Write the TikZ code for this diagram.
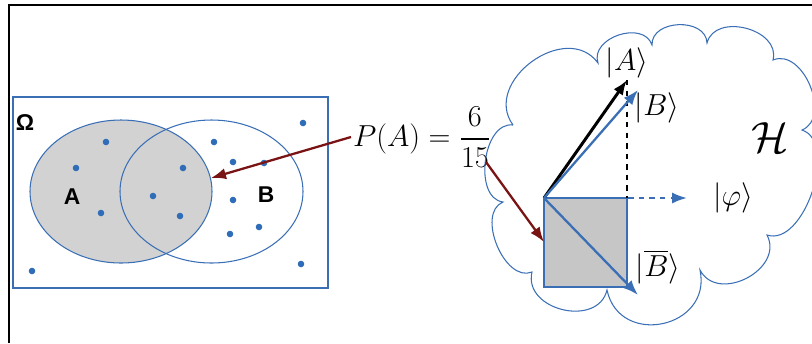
\documentclass[tikz,border=0pt]{standalone}
\usepackage{amsmath,amssymb}
\usepackage{fontspec}
\newfontfamily\vennfont{Liberation Sans}
\usetikzlibrary{arrows.meta,positioning,calc}
\definecolor{kblue}{HTML}{3A6FB5}
\definecolor{kred}{HTML}{7A1414}
\definecolor{kgray}{HTML}{D2D2D2}
\definecolor{dotblue}{HTML}{2F6DB8}
\tikzset{
  setlbl/.style={font=\vennfont\bfseries\fontsize{13}{15}\selectfont},
  ketlbl/.style={font=\fontsize{17}{19}\selectfont, inner sep=0pt},
  puff/.style={bend left=90, looseness=#1},
}

\begin{document}
\begin{tikzpicture}[x=0.02cm, y=-0.02cm]
\useasboundingbox (0,0) rectangle (812,343);
% frame
\draw[line width=1.3pt] (9,343) -- (9,5) -- (812,5);
% sample space and events
\fill[kgray] (121,191.5) ellipse (91 and 71.5);
\draw[kblue, thick] (13,97) rectangle (328,288);
\draw[kblue, semithick] (121,191.5) ellipse (91 and 71.5);
\draw[kblue, semithick] (211.5,191.5) ellipse (91.5 and 71.5);
\node[setlbl] (omega) at (25,123) {Ω};
\node[setlbl] (seta) at (72,197) {A};
\node[setlbl] (setb) at (266,195) {B};
% outcomes
\foreach \p in {(106,142),(76,168),(101,213),(183,168),(153,196),(180,216),
  (214,142),(233,162),(264,163),(233,200),(230,234),(259,227),
  (303,123),(301,264),(32,271)}
  \fill[dotblue] \p circle (3.3);
% probability
\node[font=\fontsize{16}{18}\selectfont, anchor=west, inner sep=1pt] (pa) at (351,137)
   {$P(A)=\dfrac{6}{15}$};
\coordinate (aedge) at (211,178);
\draw[kred, line width=1.3pt, -{Latex[length=3mm]}] (pa.west) -- (aedge);
% Hilbert space
\draw[kblue, semithick] (513,125) to[puff=1.3] (598,63)
  to[puff=1.2] (652,45) to[puff=1.2] (707,43)
  to[puff=1.2] (773,60) to[puff=1.1] (802,130)
  to[puff=0.9] (767,235) to[puff=1.3] (700,270)
  to[puff=1.6] (607,290) to[puff=1.3] (532,272)
  to[puff=1.0] (503,202) to[puff=1.0] (513,125);
\node[font=\fontsize{32}{34}\selectfont] (hs) at (770,138) {$\mathcal{H}$};
% vectors
\coordinate (O) at (544,198);
\coordinate (corner) at (627,287);
\coordinate (ta) at (627,80);
\coordinate (foot) at (627,198);
\coordinate (tb) at (638,90);
\coordinate (tphi) at (687,198);
\coordinate (tbb) at (638,295);
\fill[gray!45] (O) rectangle (corner);
\draw[kblue, semithick] (O) rectangle (corner);
\draw[black, dashed, line width=1.3pt] (ta) -- (foot);
\draw[kblue, dashed, line width=1.3pt, -{Latex[length=3mm]}] (O) -- (tphi);
\draw[black, line width=1.7pt, -{Latex[length=3mm]}] (O) -- (ta);
\draw[kblue, line width=1.3pt, -{Latex[length=3mm]}] (O) -- (tb);
\draw[kblue, line width=1.3pt, -{Latex[length=3mm]}] (O) -- (tbb);
\coordinate (fr) at (486,162);
\coordinate (sq) at (544,242);
\draw[kred, line width=1.3pt, -{Latex[length=3mm]}] (fr) -- (sq);
% kets
\node[ketlbl] (ka) at (627,63) {$|A\rangle$};
\node[ketlbl] (kb) at (657,108) {$|B\rangle$};
\node[ketlbl] (kphi) at (733,198) {$|\varphi\rangle$};
\node[ketlbl] (kbb) at (658,267) {$|\overline{B}\rangle$};
\end{tikzpicture}
\end{document}
